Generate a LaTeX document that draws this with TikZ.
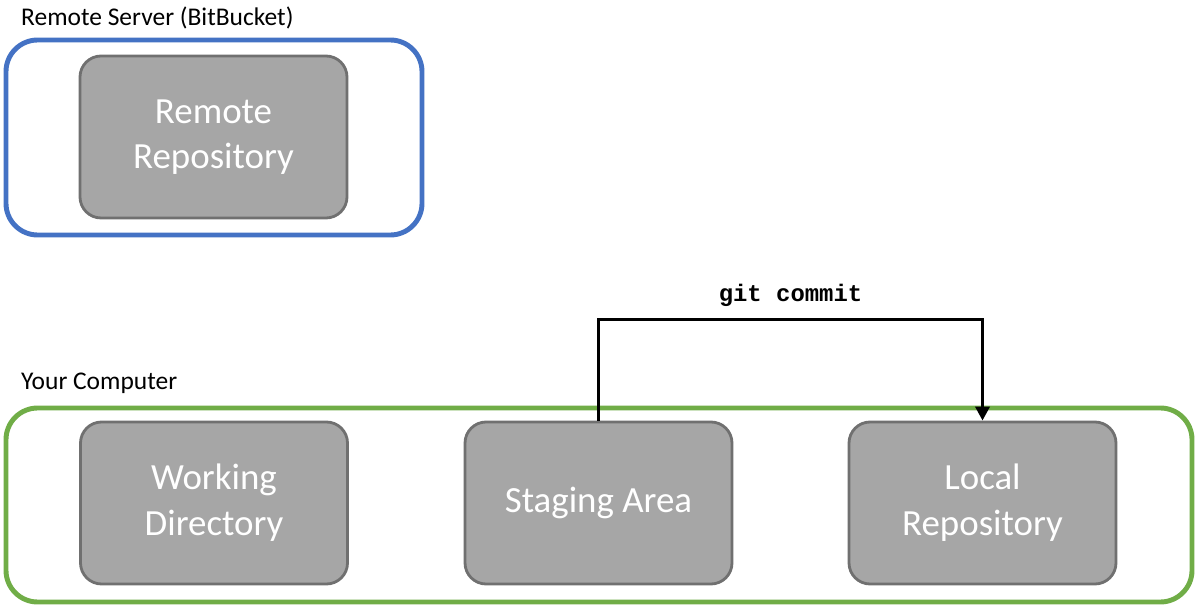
\documentclass[tikz,border=0pt]{standalone}
\usepackage{fontspec}
\setmainfont{Carlito}
\newfontfamily\gitmono{Liberation Mono}
\usetikzlibrary{arrows.meta}
\definecolor{boxgray}{HTML}{A6A6A6}
\definecolor{boxedge}{HTML}{707070}
\definecolor{srvblue}{HTML}{4472C4}
\definecolor{pcgreen}{HTML}{70AD47}
\tikzset{
  repo/.style={draw=boxedge,fill=boxgray,line width=1.6pt,rounded corners=12pt,
    minimum width=5.34cm,minimum height=3.24cm,align=center,text=white,
    font=\fontsize{21}{26}\selectfont},
  frame/.style={line width=2.8pt,rounded corners=18pt,fill=white},
  title/.style={anchor=west,font=\fontsize{14.5}{17}\selectfont}
}
\begin{document}
\begin{tikzpicture}
\useasboundingbox (0,0) rectangle (24,12.18);
% Remote side
\node[frame,draw=srvblue,minimum width=8.32cm,minimum height=3.9cm] (server) at (4.28,9.43) {};
\node[repo] (remote) at (4.27,9.44) {Remote\\Repository};
\node[title] (servertitle) at (0.3,11.82) {Remote Server (BitBucket)};
% Local side
\node[frame,draw=pcgreen,minimum width=23.72cm,minimum height=3.88cm] (computer) at (11.98,2.08) {};
\node[title] (pctitle) at (0.3,4.52) {Your Computer};
\node[repo] (work) at (4.28,2.12) {Working\\Directory};
\node[repo] (stage) at (11.97,2.12) {Staging Area};
\node[repo] (local) at (19.65,2.12) {Local\\Repository};
% Commit arrow
\draw[line width=2pt,-{Triangle[length=8pt,width=8pt]}] (stage.north) -- ++(0,2.02) coordinate (bend)
  -| node[pos=0.25,above=3pt,font=\gitmono\bfseries\fontsize{13.6}{16}\selectfont] (commit) {git commit} (local.north);
\end{tikzpicture}
\end{document}
